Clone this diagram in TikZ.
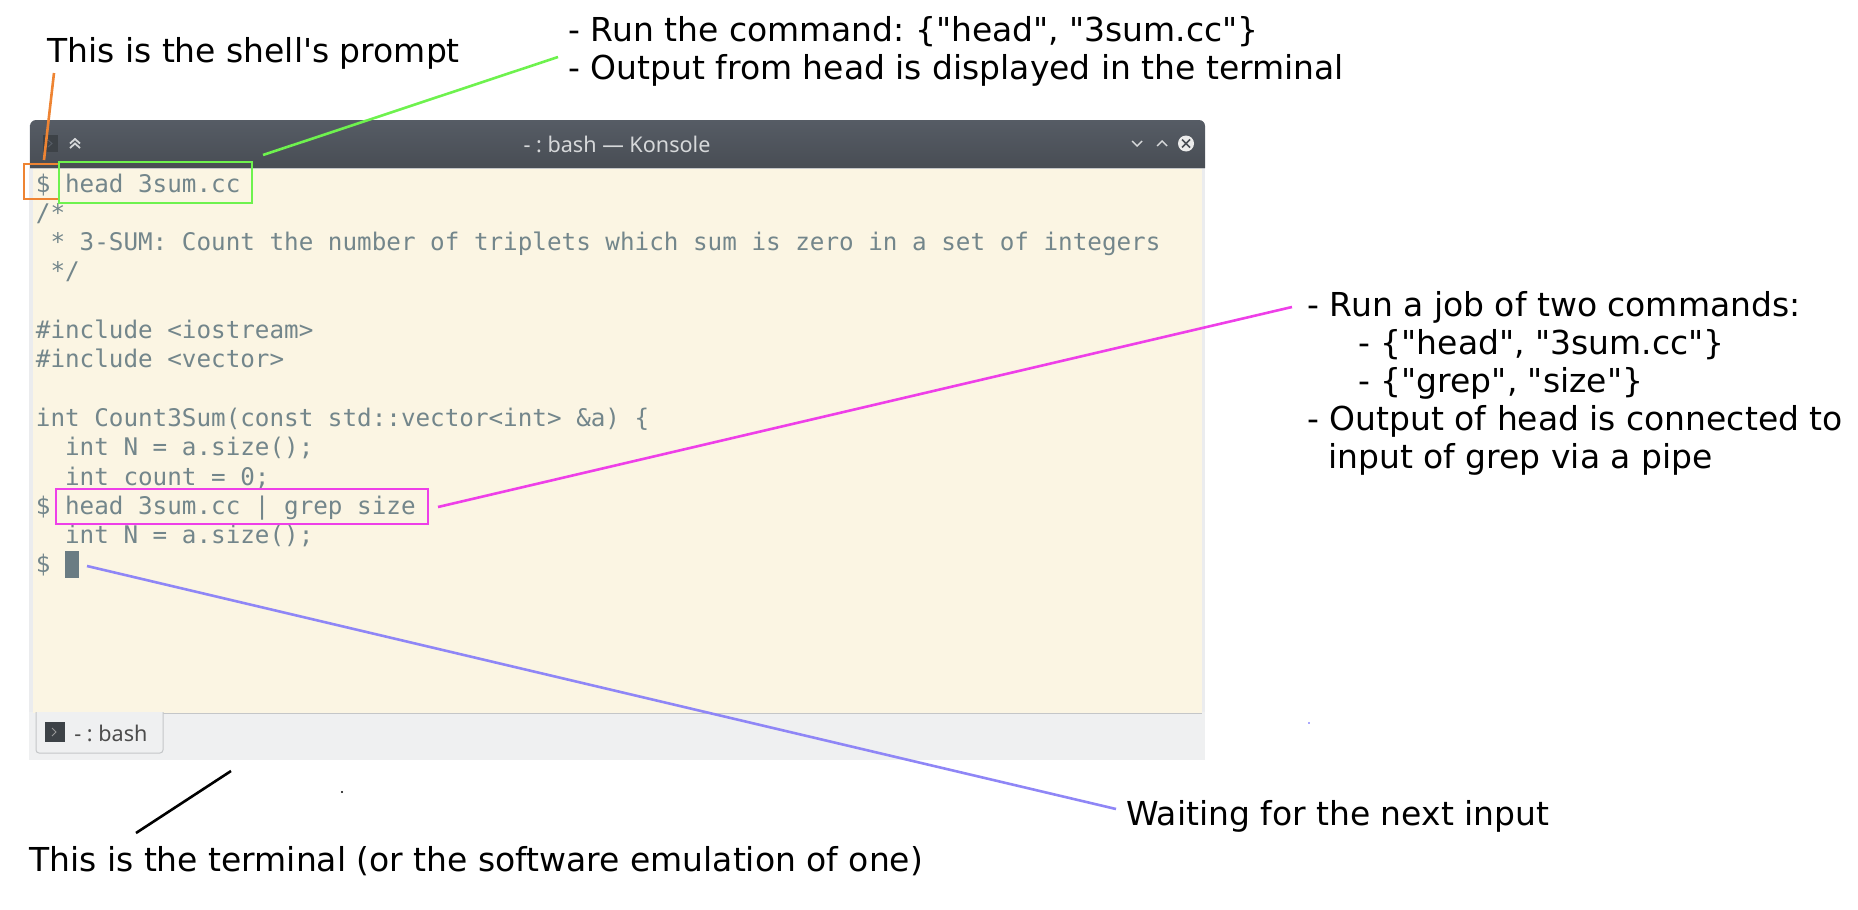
\documentclass[tikz,border=0pt]{standalone}
\usepackage{fontspec}
\newfontfamily\annotfont{DejaVu Sans}
\newfontfamily\monofont{DejaVu Sans Mono}
\newfontfamily\uifont{Noto Sans}
\AtBeginDocument{\frenchspacing}
\definecolor{termbg}{HTML}{FBF5E3}
\definecolor{termfg}{HTML}{73868B}
\definecolor{cursorc}{HTML}{6A7C83}
\definecolor{chromebg}{HTML}{EFF0F1}
\definecolor{chromeside}{HTML}{EBECEE}
\definecolor{chromeln}{HTML}{C4C6C8}
\definecolor{titletop}{HTML}{565C65}
\definecolor{titlebot}{HTML}{484D54}
\definecolor{uifg}{HTML}{D6D8DA}
\definecolor{iconc}{HTML}{3D4247}
\definecolor{orangec}{HTML}{EE8433}
\definecolor{greenc}{HTML}{6EF24E}
\definecolor{magc}{HTML}{EE3FE8}
\definecolor{purplec}{HTML}{8F86F6}
\tikzset{
  x=0.5pt,y=-0.5pt,
  annot/.style={inner sep=0pt,anchor=base west,align=left,font=\annotfont\fontsize{16.48}{19}\selectfont,text=black},
  term/.style={inner sep=0pt,anchor=base west,font=\monofont\fontsize{12.13}{14}\selectfont,text=termfg},
  ui/.style={inner sep=0pt,font=\uifont\fontsize{10.8}{12}\selectfont},
  leader/.style={draw=#1,line width=1.3pt},
}
\newcommand{\tline}[2]{\node[term] (t#1) at (35.5,{192+29.3*#1}) {#2};}
\begin{document}
\begin{tikzpicture}
\useasboundingbox (0,0) rectangle (1858,910);
% window
\fill[chromeside] (29,125) rectangle (1205,760);
\fill[chromebg] (29,712) rectangle (1205,760);
\fill[termbg] (33,168) rectangle (1202,713);
\draw[chromeln,line width=0.5pt] (163,713) -- (1202,713);
\shade[top color=titletop,bottom color=titlebot] (30,168) [rounded corners=3pt] -- (30,120) -- (1205,120) [sharp corners] -- (1205,168) -- cycle;
\draw[chromeln,line width=0.5pt] (30,168) -- (1205,168);
\node[ui,text=uifg] (title) at (617,144) {- : bash — Konsole};
% title icons
\fill[iconc] (43,135) rectangle (58,152);
\draw[titletop,line width=0.5pt] (48,140) -- (52,143.5) -- (48,147);
\draw[uifg,line width=0.9pt] (70,143.5) -- (75,139) -- (80,143.5) (70,148) -- (75,143.5) -- (80,148);
\draw[uifg,line width=0.7pt] (1132,141) -- (1137,146) -- (1142,141);
\draw[uifg,line width=0.7pt] (1157,146) -- (1162,141) -- (1167,146);
\fill[white!92!black] (1186,143.5) circle (8);
\draw[titlebot,line width=0.8pt] (1182,139.5) -- (1190,147.5) (1190,139.5) -- (1182,147.5);
% tab
\filldraw[fill=chromebg,draw=chromeln,line width=0.5pt,rounded corners=1.5pt] (36,712) -- (36,753) -- (163,753) -- (163,712);
\fill[iconc] (45,722) rectangle (65,742);
\draw[uifg!70!black,line width=0.5pt] (52,728) -- (56,732) -- (52,736);
\node[ui,text=black!70,anchor=base west] (tab) at (74,741) {- : bash};
% terminal text
\tline{0}{\$ head 3sum.cc}
\tline{1}{/*}
\tline{2}{\ * 3-SUM: Count the number of triplets which sum is zero in a set of integers}
\tline{3}{\ */}
\tline{5}{\#include <iostream>}
\tline{6}{\#include <vector>}
\tline{8}{int Count3Sum(const std::vector<int> \&a) \{}
\tline{9}{\ \ int N = a.size();}
\tline{10}{\ \ int count = 0;}
\tline{11}{\$ head 3sum.cc | grep size}
\tline{12}{\ \ int N = a.size();}
\tline{13}{\$}
\fill[cursorc] (65,551) rectangle (79,578);
% boxes
\coordinate (greenTL) at (59,162);
\coordinate (greenBR) at (252,203);
\coordinate (magTL) at (56,489);
\coordinate (magBR) at (428,524);
\draw[orangec,line width=1.3pt] (59,199) -- (24,199) -- (24,164) -- (59,164);
\draw[greenc,line width=1.3pt] (greenTL) rectangle (greenBR);
\draw[magc,line width=1.3pt] (magTL) rectangle (magBR);
% labels
\node[annot] (prompt) at (47,62) {This is the shell's prompt};
\node[annot] (run) at (568,41) {- Run the command: \{"head", "3sum.cc"\}};
\node[annot] (out) at (568,79) {- Output from head is displayed in the terminal};
\node[annot] (j1) at (1307,316) {- Run a job of two commands:};
\node[annot] (j2) at (1358,354) {- \{"head", "3sum.cc"\}};
\node[annot] (j3) at (1358,392) {- \{"grep", "size"\}};
\node[annot] (j4) at (1307,430) {- Output of head is connected to};
\node[annot] (j5) at (1328,468) {input of grep via a pipe};
\node[annot] (wait) at (1126,825) {Waiting for the next input};
\node[annot] (terminal) at (29,871) {This is the terminal (or the software emulation of one)};
% leaders
\coordinate (oa) at (54,73);
\coordinate (ob) at (44,160);
\coordinate (ga) at (558,57);
\coordinate (gb) at (263,155);
\coordinate (ma) at (1292,307);
\coordinate (mb) at (438,507);
\coordinate (pa) at (87,566);
\coordinate (pb) at (1116,809);
\coordinate (ka) at (231,771);
\coordinate (kb) at (136,833);
\draw[leader=orangec] (oa) -- (ob);
\draw[leader=greenc] (ga) -- (gb);
\draw[leader=magc] (ma) -- (mb);
\draw[leader=purplec] (pa) -- (pb);
\draw[leader=black] (ka) -- (kb);
% specks
\fill[black] (342,792) circle (1.2);
\fill[purplec!60!blue] (1309,723) circle (0.9);
\end{tikzpicture}
\end{document}
